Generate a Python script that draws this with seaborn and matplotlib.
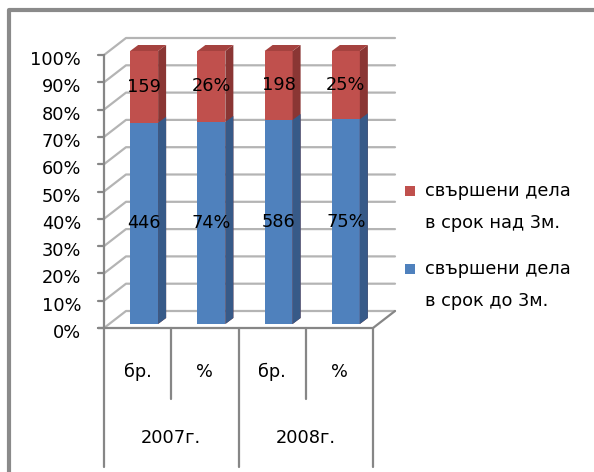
import matplotlib
matplotlib.use("Agg")
import matplotlib.pyplot as plt
import matplotlib.transforms as mtransforms
from matplotlib.patches import Polygon, Rectangle
from matplotlib.lines import Line2D
import pandas as pd
import seaborn as sns

# data
categories = ["бр.", "%", "бр.", "%"]
years = ["2007г.", "2008г."]
done_under_3m = [446, 74, 586, 75]
done_over_3m = [159, 26, 198, 25]
label_under = ["446", "74%", "586", "75%"]
label_over = ["159", "26%", "198", "25%"]
series_over = "свършени дела\nв срок над 3м."
series_under = "свършени дела\nв срок до 3м."
y_ticks = list(range(0, 101, 10))

RED, RED_SIDE, RED_TOP = "#C0504D", "#8A3634", "#A5423F"
BLUE, BLUE_SIDE = "#4F81BD", "#375A88"
GRID = "#b4b4b4"
AXIS = "#868686"

df = pd.DataFrame({
    "key": [f"{y} {c}" for y, c in zip(["07", "07", "08", "08"], categories)],
    "under": [u / (u + o) * 100 for u, o in zip(done_under_3m, done_over_3m)],
    "total": [100.0] * 4,
})

sns.set_style("white")
plt.rcParams["font.family"] = ["DejaVu Sans"]
plt.rcParams["text.color"] = "black"
FS = 12.8

W, H = 594, 472
fig = plt.figure(figsize=(W / 100, H / 100), dpi=100)
ax = fig.add_axes([104 / W, 144 / H, 269 / W, 273 / H])

sns.barplot(data=df, x="key", y="total", color=RED, width=0.416,
            saturation=1, linewidth=0, ax=ax)
sns.barplot(data=df, x="key", y="under", color=BLUE, width=0.416,
            saturation=1, linewidth=0, ax=ax)
ax.set_xlim(-0.5, 3.5)
ax.set_ylim(0, 100)
ax.axis("off")

ident = mtransforms.IdentityTransform()
shift = mtransforms.ScaledTranslation(6.5 / 100, 4 / 100, fig.dpi_scale_trans)
bar_trans = ax.transData + shift

red_bars = ax.patches[:4]
blue_bars = ax.patches[4:8]
for p in red_bars + blue_bars:
    p.set_transform(bar_trans)
    p.set_clip_on(False)


def px(x, y):
    return ax.transData.transform((x, y))


# walls and gridlines (front plane -> back plane)
DX, DY = 22, 17
for v in y_ticks:
    fx, fy = px(-0.5, v)
    rx, _ = px(3.5, v)
    ax.add_line(Line2D([fx, fx + DX, rx + DX], [fy, fy + DY, fy + DY],
                       transform=ident, color=GRID, lw=1.6, zorder=0.5, clip_on=False))
    ax.add_line(Line2D([fx - 6, fx], [fy, fy], transform=ident,
                       color=AXIS, lw=1.6, zorder=0.6, clip_on=False))
    ax.text(fx - 23, fy - 5, f"{v}%", transform=ident, ha="right", va="center",
            fontsize=FS, color="black")

x0, y0 = px(-0.5, 0)
x1, y1 = px(3.5, 100)
ax.add_line(Line2D([x0, x0], [y0, y1], transform=ident, color=AXIS, lw=1.6,
                   zorder=0.6, clip_on=False))
ax.add_line(Line2D([x0 - 6, px(3.5, 0)[0], px(3.5, 0)[0] + DX], [y0, y0, y0 + DY],
                   transform=ident, color=AXIS, lw=1.6, zorder=0.6, clip_on=False))

# 3D faces of the bars
DEPTH = (8, 6)


def faces(p, side, top=None):
    t = p.get_data_transform()
    (a, b) = t.transform((p.get_x(), p.get_y()))
    (c, d) = t.transform((p.get_x() + p.get_width(), p.get_y() + p.get_height()))
    ex, ey = DEPTH
    ax.add_patch(Polygon([(c, b), (c + ex, b + ey), (c + ex, d + ey), (c, d)],
                         transform=ident, color=side, lw=0, zorder=1.5, clip_on=False))
    if top is not None:
        ax.add_patch(Polygon([(a, d), (a + ex, d + ey), (c + ex, d + ey), (c, d)],
                             transform=ident, color=top, lw=0, zorder=1.5, clip_on=False))
    return (a + c) / 2, b, d


for i, (rb, bb) in enumerate(zip(red_bars, blue_bars)):
    cx, _, top = faces(rb, RED_SIDE, RED_TOP)
    _, bot, mid = faces(bb, BLUE_SIDE)
    ax.text(cx, (mid + top) / 2, label_over[i], transform=ident, ha="center",
            va="center", fontsize=FS, color="black", zorder=4)
    ax.text(cx, (bot + mid) / 2, label_under[i], transform=ident, ha="center",
            va="center", fontsize=FS, color="black", zorder=4)

# multi-level category axis
for i in range(5):
    bx, _ = px(i - 0.5, 0)
    depth = 139 if i % 2 == 0 else 71
    ax.add_line(Line2D([bx, bx], [y0, y0 - depth], transform=ident, color=AXIS,
                       lw=1.6, clip_on=False))
for i, c in enumerate(categories):
    cx, _ = px(i, 0)
    ax.text(cx, y0 - 44, c, transform=ident, ha="center", va="center",
            fontsize=FS, color="black")
for j, yr in enumerate(years):
    cx, _ = px(2 * j + 0.5, 0)
    ax.text(cx, y0 - 110, yr, transform=ident, ha="center", va="center",
            fontsize=FS, color="black")

# legend
for k, (name, col) in enumerate([(series_over, RED), (series_under, BLUE)]):
    top_y = H - 191 - 78 * k
    fig.patches.append(Rectangle((405, top_y - 5), 10, 10, transform=ident,
                                 color=col, lw=0, figure=fig))
    for m, line in enumerate(name.split("\n")):
        fig.text(425, top_y - 32 * m, line, transform=ident, ha="left",
                 va="center", fontsize=FS, color="black")

# outer chart frame
fig.add_artist(Line2D([9, 9, W], [0, H - 10, H - 10], transform=ident,
                      color="#8a8a8a", lw=3))

fig.savefig("out.png", dpi=100)
